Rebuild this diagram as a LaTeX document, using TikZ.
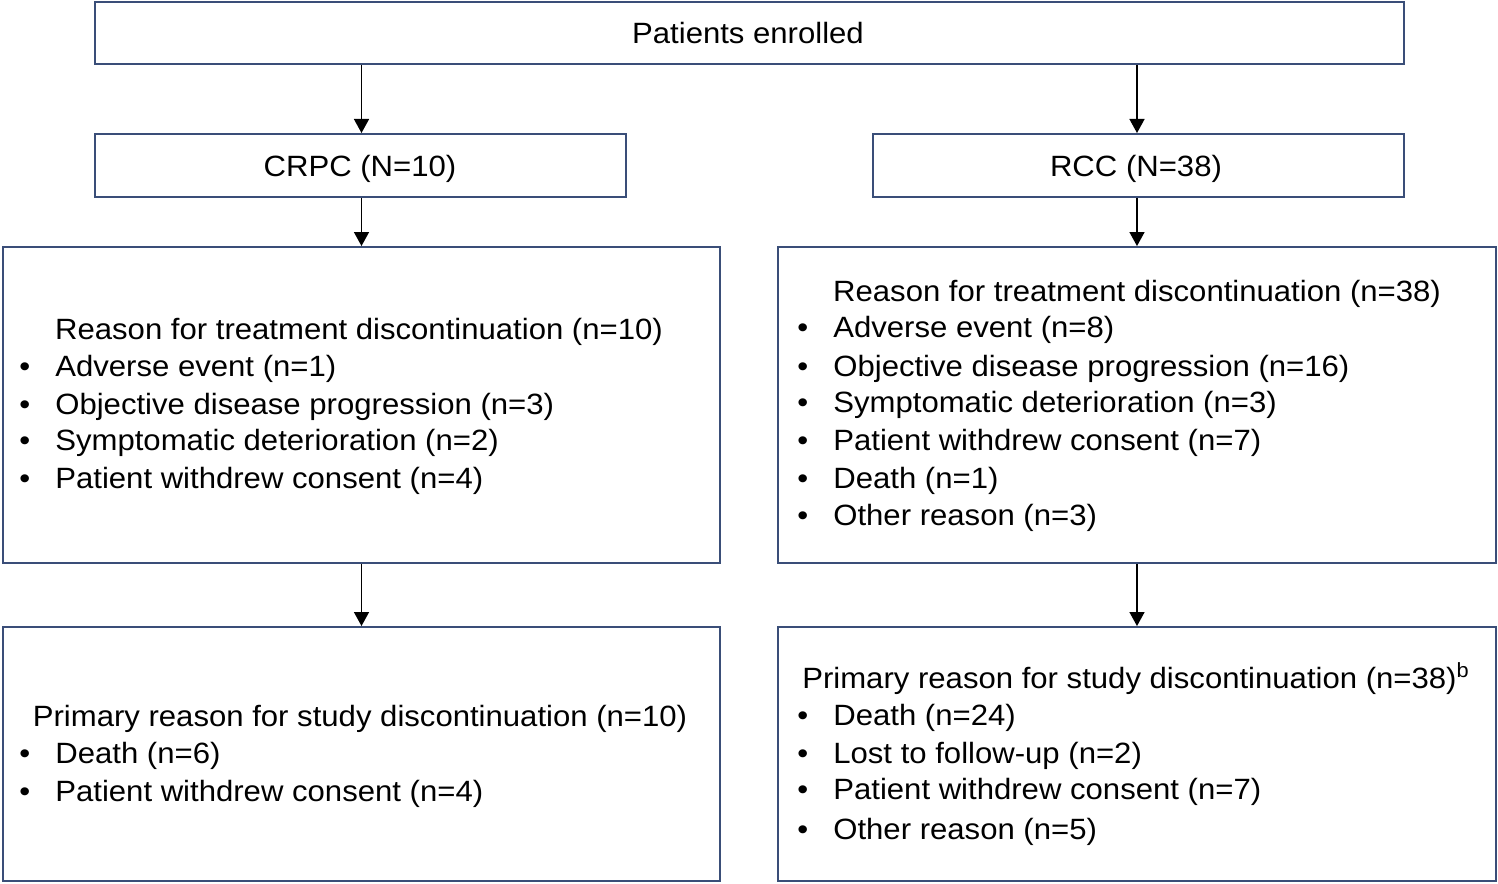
\documentclass[tikz,border=0pt]{standalone}
\usepackage{fontspec}
\usepackage{graphicx}
\setmainfont{Liberation Sans}
\usetikzlibrary{arrows.meta}

\definecolor{boxblue}{RGB}{58,78,120}
\newcommand{\stretchtxt}[1]{\scalebox{1.06}[1]{#1}}

\tikzset{
  box/.style   = {draw=boxblue, line width=1.1pt, rectangle, inner sep=0pt},
  arr/.style   = {-{Triangle[length=8pt, width=8.5pt]}, line width=1pt, black},
  head/.style  = {anchor=base, inner sep=0pt, font=\fontsize{16.7}{20}\selectfont},
  entry/.style = {anchor=base west, inner sep=0pt, font=\fontsize{16.7}{20}\selectfont},
}

\begin{document}
\begin{tikzpicture}[x=0.02cm, y=-0.02cm]
  \useasboundingbox (0,0) rectangle (1498,884);

  % boxes
  \node[box, minimum width=26.18cm, minimum height=1.24cm] at ( 749.5,  33  ) (top)   {};
  \node[box, minimum width=10.62cm, minimum height=1.26cm] at ( 360.5, 165.5) (crpc)  {};
  \node[box, minimum width=10.62cm, minimum height=1.26cm] at (1138.5, 165.5) (rcc)   {};
  \node[box, minimum width=14.36cm, minimum height=6.32cm] at ( 361.5, 405  ) (trtl)  {};
  \node[box, minimum width=14.38cm, minimum height=6.32cm] at (1137  , 405  ) (trtr)  {};
  \node[box, minimum width=14.36cm, minimum height=5.08cm] at ( 361.5, 754  ) (studl) {};
  \node[box, minimum width=14.38cm, minimum height=5.08cm] at (1137  , 754  ) (studr) {};

  % arrows
  \draw[arr] (top.south -| trtl.north) -- (crpc.north -| trtl.north);
  \draw[arr] (top.south -| trtr.north) -- (rcc.north -| trtr.north);
  \draw[arr] (crpc.south -| trtl.north) -- (trtl.north);
  \draw[arr] (rcc.south -| trtr.north) -- (trtr.north);
  \draw[arr] (trtl.south) -- (studl.north);
  \draw[arr] (trtr.south) -- (studr.north);

  % titles
  \node[head] at ( 748,  44) (ttop)  {\stretchtxt{Patients enrolled}};
  \node[head] at ( 360, 177) (tcrpc) {\stretchtxt{CRPC (N=10)}};
  \node[head] at (1136, 177) (trcc)  {\stretchtxt{RCC (N=38)}};

  % left: treatment discontinuation
  \node[head] at ( 359, 340) (hl1) {\stretchtxt{Reason for treatment discontinuation (n=10)}};
  \foreach \y/\t [count=\i] in {377/Adverse event (n=1),
                                415/Objective disease progression (n=3),
                                451/Symptomatic deterioration (n=2),
                                489/Patient withdrew consent (n=4)} {
    \node[entry] at (19, \y) (bl1\i) {\stretchtxt{•}};
    \node[entry] at (55, \y) (el1\i) {\stretchtxt{\t}};
  }

  % right: treatment discontinuation
  \node[head] at (1137, 302) (hr1) {\stretchtxt{Reason for treatment discontinuation (n=38)}};
  \foreach \y/\t [count=\i] in {338/Adverse event (n=8),
                                377/Objective disease progression (n=16),
                                413/Symptomatic deterioration (n=3),
                                451/Patient withdrew consent (n=7),
                                489/Death (n=1),
                                526/Other reason (n=3)} {
    \node[entry] at (797, \y) (br1\i) {\stretchtxt{•}};
    \node[entry] at (833, \y) (er1\i) {\stretchtxt{\t}};
  }

  % left: study discontinuation
  \node[head] at ( 360, 727) (hl2) {\stretchtxt{Primary reason for study discontinuation (n=10)}};
  \foreach \y/\t [count=\i] in {764/Death (n=6),
                                802/Patient withdrew consent (n=4)} {
    \node[entry] at (19, \y) (bl2\i) {\stretchtxt{•}};
    \node[entry] at (55, \y) (el2\i) {\stretchtxt{\t}};
  }

  % right: study discontinuation
  \node[head] at (1136, 689) (hr2) {\stretchtxt{Primary reason for study discontinuation (n=38)\textsuperscript{b}}};
  \foreach \y/\t [count=\i] in {726/Death (n=24),
                                764/Lost to follow-up (n=2),
                                800/Patient withdrew consent (n=7),
                                839/Other reason (n=5)} {
    \node[entry] at (797, \y) (br2\i) {\stretchtxt{•}};
    \node[entry] at (833, \y) (er2\i) {\stretchtxt{\t}};
  }
\end{tikzpicture}
\end{document}
